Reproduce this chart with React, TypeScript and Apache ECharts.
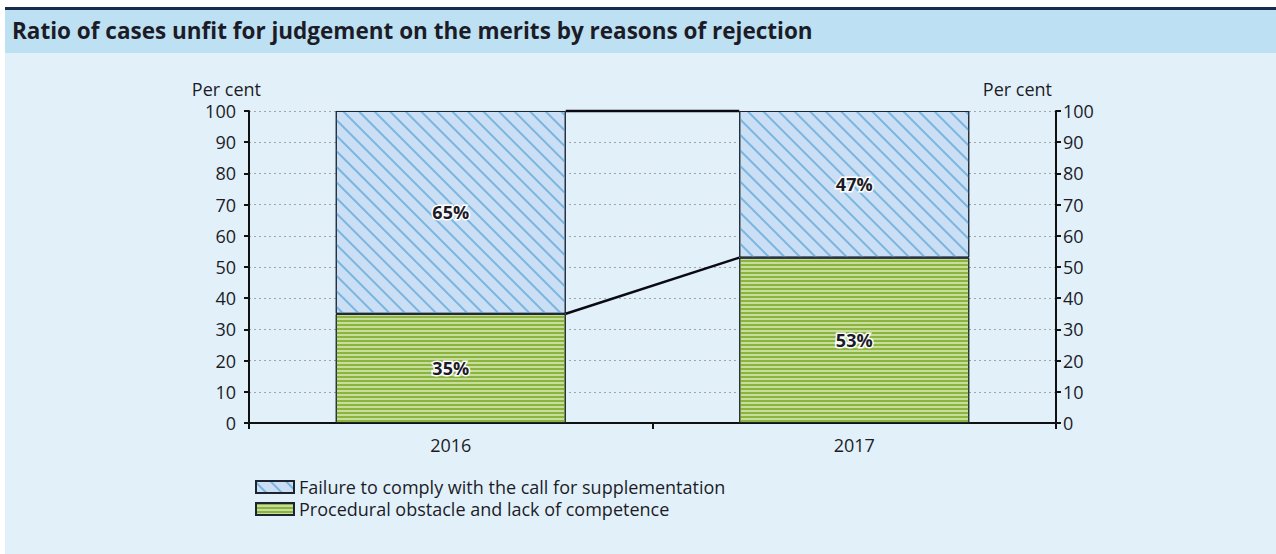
import React, { useEffect, useRef } from "react";
import * as echarts from "echarts";

const TITLE = "Ratio of cases unfit for judgement on the merits by reasons of rejection";
const CATEGORIES = ["2016", "2017"];
const PROCEDURAL = [35, 53];
const FAILURE = [65, 47];
const SERIES_NAMES = [
  "Failure to comply with the call for supplementation",
  "Procedural obstacle and lack of competence",
];
const Y_TICKS_MAX = 100;
const Y_INTERVAL = 10;
const AXIS_NAME = "Per cent";

const BAR_WIDTH_RATIO = 0.57;
const FONT = "'Open Sans', 'Noto Sans', sans-serif";
const TEXT = "#1c1c28";
const LABEL_SIZE = 18;

export default function App() {
  const ref = useRef<HTMLDivElement>(null);
  useEffect(() => {
    document.body.style.margin = "0";
    if (!ref.current) return;
    const chart = echarts.init(ref.current, undefined, { renderer: "svg" });
    const totals = PROCEDURAL.map((v, i) => v + FAILURE[i]);
    const connectors = [
      [0, PROCEDURAL[0], PROCEDURAL[1]],
      [0, totals[0], totals[1]],
    ];
    const label = {
      show: true,
      position: "inside",
      formatter: "{c}%",
      fontSize: 18,
      fontWeight: "bold",
      fontFamily: FONT,
      color: TEXT,
      textBorderColor: "#ffffff",
      textBorderWidth: 3,
    };
    chart.setOption({
      animation: false,
      backgroundColor: "#ffffff",
      textStyle: { fontFamily: FONT, color: TEXT },
      graphic: [
        { type: "rect", z: -10, shape: { x: 5, y: 7, width: 1271, height: 3 }, style: { fill: "#1b2b4e" } },
        { type: "rect", z: -10, shape: { x: 5, y: 10, width: 1271, height: 43 }, style: { fill: "#bde1f2" } },
        { type: "rect", z: -10, shape: { x: 5, y: 53, width: 1271, height: 501 }, style: { fill: "#e2f1f9" } },
      ],
      title: {
        text: TITLE,
        left: 12,
        top: 19,
        padding: 0,
        textStyle: { fontSize: 22.5, fontWeight: "bold", color: TEXT, fontFamily: FONT },
      },
      legend: {
        orient: "vertical",
        left: 250,
        top: 473,
        itemWidth: 38,
        itemHeight: 12,
        itemGap: 4,
        icon: "rect",
        data: SERIES_NAMES,
        textStyle: { fontSize: 18, color: TEXT, fontFamily: FONT },
      },
      grid: { left: 249, right: 220, top: 111, bottom: 131 },
      xAxis: {
        type: "category",
        data: CATEGORIES,
        axisLine: { lineStyle: { color: "#111", width: 2 } },
        axisTick: { show: true, length: 6, lineStyle: { color: "#111", width: 2 } },
        axisLabel: { fontSize: LABEL_SIZE, color: TEXT, margin: 13 },
      },
      yAxis: [
        {
          type: "value",
          min: 0,
          max: Y_TICKS_MAX,
          interval: Y_INTERVAL,
          position: "left",
          name: AXIS_NAME,
          nameLocation: "end",
          nameGap: 13,
          nameTextStyle: { fontSize: LABEL_SIZE, color: TEXT, align: "right", padding: [0, -12, 0, 0] },
          axisLine: { show: true, lineStyle: { color: "#111", width: 2 } },
          axisTick: { show: true, length: 5, lineStyle: { color: "#111", width: 2 } },
          axisLabel: { fontSize: LABEL_SIZE, color: TEXT, margin: 13 },
          splitLine: { show: true, lineStyle: { color: "#a3a3a8", width: 1, type: [2, 3] } },
        },
        {
          type: "value",
          min: 0,
          max: Y_TICKS_MAX,
          interval: Y_INTERVAL,
          position: "right",
          name: AXIS_NAME,
          nameLocation: "end",
          nameGap: 13,
          nameTextStyle: { fontSize: LABEL_SIZE, color: TEXT, align: "right", padding: [0, 4, 0, 0] },
          axisLine: { show: true, lineStyle: { color: "#111", width: 2 } },
          axisTick: { show: true, length: 5, lineStyle: { color: "#111", width: 2 } },
          axisLabel: { fontSize: LABEL_SIZE, color: TEXT, margin: 7 },
          splitLine: { show: false },
        },
      ],
      series: [
        {
          name: SERIES_NAMES[1],
          type: "bar",
          stack: "total",
          barWidth: BAR_WIDTH_RATIO * 100 + "%",
          data: PROCEDURAL,
          label,
          itemStyle: {
            color: "#c6dd9c",
            borderColor: "#1c2430",
            borderWidth: 1,
            decal: {
              symbol: "rect",
              symbolSize: 1,
              color: "#8ab43e",
              dashArrayX: [1, 0],
              dashArrayY: [2, 2],
              rotation: 0,
            },
          },
        },
        {
          name: SERIES_NAMES[0],
          type: "bar",
          stack: "total",
          barWidth: BAR_WIDTH_RATIO * 100 + "%",
          data: FAILURE,
          label,
          itemStyle: {
            color: "#cadff3",
            borderColor: "#1c2430",
            borderWidth: 1,
            decal: {
              symbol: "rect",
              symbolSize: 1,
              color: "#7ab5e2",
              dashArrayX: [1, 0],
              dashArrayY: [2, 9],
              rotation: Math.PI / 4,
            },
          },
        },
        {
          name: "connectors",
          type: "custom",
          z: 10,
          silent: true,
          encode: { x: 0, y: 1 },
          data: connectors,
          renderItem: (params: any, api: any) => {
            const a = api.coord([0, api.value(1)]);
            const b = api.coord([1, api.value(2)]);
            const hw = (api.size([1, 0])[0] * BAR_WIDTH_RATIO) / 2;
            return {
              type: "line",
              shape: { x1: a[0] + hw, y1: a[1], x2: b[0] - hw, y2: b[1] },
              style: { stroke: "#0a0a14", lineWidth: 2.5 },
            };
          },
        },
      ],
    });
    return () => chart.dispose();
  }, []);
  return <div ref={ref} style={{ width: 1276, height: 554 }} />;
}
